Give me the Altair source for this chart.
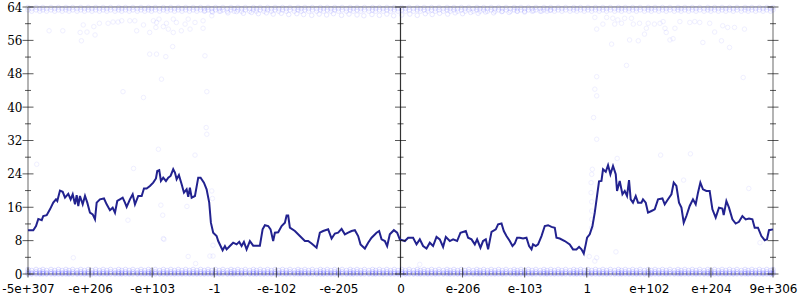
import altair as alt
import pandas as pd

# ---------------- data ----------------
tick_labels = ["-5e+307", "-e+206", "-e+103", "-1", "-e-102", "-e-205", "0",
               "e-206", "e-103", "1", "e+102", "e+204", "9e+306"]
tick_pos = list(range(13))
y_major = [0, 8, 16, 24, 32, 40, 48, 56, 64]
y_minor = [4, 12, 20, 28, 36, 44, 52, 60]

line_x = [0.00, 0.085, 0.129, 0.166, 0.221, 0.246, 0.301, 0.354, 0.407, 0.451, 0.472, 0.515, 0.559, 0.596,
          0.649, 0.687, 0.720, 0.757, 0.784, 0.810, 0.837, 0.881, 0.918, 0.955, 0.998, 1.042, 1.079, 1.106,
          1.159, 1.224, 1.267, 1.320, 1.364, 1.401, 1.438, 1.481, 1.525, 1.562, 1.589, 1.642, 1.686, 1.723,
          1.776, 1.831, 1.868, 1.911, 1.964, 2.017, 2.061, 2.082, 2.114, 2.141, 2.178, 2.222, 2.259, 2.297,
          2.339, 2.367, 2.394, 2.431, 2.475, 2.512, 2.555, 2.581, 2.608, 2.636, 2.689, 2.742, 2.780, 2.834,
          2.877, 2.919, 2.946, 2.983, 3.038, 3.064, 3.102, 3.135, 3.172, 3.199, 3.252, 3.305, 3.360, 3.402,
          3.441, 3.478, 3.521, 3.574, 3.627, 3.735, 3.779, 3.816, 3.869, 3.907, 3.949, 3.977, 4.030, 4.085,
          4.138, 4.165, 4.191, 4.218, 4.299, 4.379, 4.460, 4.513, 4.568, 4.648, 4.701, 4.754, 4.835, 4.890,
          4.943, 4.996, 5.051, 5.104, 5.157, 5.212, 5.265, 5.318, 5.356, 5.426, 5.479, 5.534, 5.614, 5.656,
          5.695, 5.748, 5.785, 5.828, 5.893, 5.946, 5.989, 6.070, 6.123, 6.203, 6.258, 6.311, 6.364, 6.419,
          6.472, 6.525, 6.580, 6.633, 6.686, 6.730, 6.794, 6.847, 6.912, 6.966, 7.052, 7.089, 7.144, 7.197,
          7.234, 7.288, 7.330, 7.374, 7.411, 7.466, 7.535, 7.572, 7.627, 7.664, 7.707, 7.760, 7.804, 7.841,
          7.878, 7.921, 7.974, 8.029, 8.071, 8.110, 8.135, 8.179, 8.216, 8.271, 8.324, 8.377, 8.432, 8.485,
          8.512, 8.565, 8.646, 8.726, 8.779, 8.834, 8.876, 8.915, 8.952, 8.984, 9.005, 9.048, 9.092, 9.129,
          9.166, 9.198, 9.237, 9.262, 9.306, 9.343, 9.381, 9.423, 9.467, 9.488, 9.531, 9.575, 9.612, 9.649,
          9.681, 9.708, 9.745, 9.789, 9.826, 9.881, 9.906, 9.950, 9.987, 10.042, 10.095, 10.148, 10.219,
          10.256, 10.309, 10.364, 10.401, 10.444, 10.486, 10.525, 10.562, 10.605, 10.658, 10.711, 10.755,
          10.792, 10.830, 10.872, 10.927, 10.980, 11.024, 11.077, 11.130, 11.185, 11.206, 11.249, 11.291,
          11.346, 11.399, 11.452, 11.507, 11.560, 11.613, 11.668, 11.705, 11.758, 11.813, 11.866, 11.903,
          11.935, 12.0]
line_y = [10.5, 10.5, 11.5, 13.2, 12.9, 13.9, 14.1, 15.5, 17.1, 17.9, 17.5, 20.0, 19.7, 18.3,
          19.2, 17.9, 19.1, 16.7, 18.9, 16.3, 18.7, 16.7, 18.7, 17.1, 14.7, 14.3, 13.1, 17.1,
          17.9, 18.1, 16.7, 15.3, 15.9, 14.7, 17.5, 17.9, 18.3, 17.1, 16.1, 17.9, 19.1, 16.7,
          18.7, 18.7, 20.5, 20.5, 21.1, 21.9, 22.9, 24.7, 24.9, 22.3, 23.1, 22.3, 23.1, 23.5,
          25.1, 24.3, 22.7, 23.7, 21.5, 19.5, 20.3, 18.5, 20.7, 18.3, 18.7, 23.1, 23.1, 21.9,
          20.3, 17.1, 12.3, 9.9, 9.1, 7.9, 6.7, 5.7, 6.7, 5.9, 6.7, 7.5, 7.1, 7.7,
          6.7, 7.7, 5.9, 7.9, 6.8, 6.8, 10.7, 11.7, 11.5, 10.7, 7.9, 9.9, 10.0, 11.5,
          12.3, 14.0, 14.0, 11.1, 10.3, 9.1, 7.9, 7.9, 7.3, 6.3, 9.9, 10.3, 10.7, 8.5,
          9.7, 9.9, 10.8, 9.5, 9.9, 10.3, 10.5, 9.1, 7.1, 6.1, 7.5, 8.7, 9.9, 10.3,
          8.3, 7.9, 6.7, 9.5, 10.5, 9.9, 8.3, 7.9, 8.7, 8.7, 7.1, 8.3, 6.7, 6.1,
          7.5, 6.7, 8.9, 8.3, 6.5, 8.9, 7.9, 8.3, 7.9, 9.9, 10.3, 8.7, 8.3, 7.1,
          8.3, 6.3, 7.9, 8.3, 5.9, 10.1, 10.7, 11.9, 12.1, 10.3, 9.1, 7.9, 6.7, 7.3,
          8.7, 8.7, 8.5, 8.7, 6.7, 5.9, 7.1, 6.7, 7.1, 9.1, 11.5, 11.7, 11.3, 11.1,
          8.7, 8.5, 7.9, 7.1, 5.9, 5.9, 6.5, 5.9, 4.9, 7.1, 8.7, 9.5, 11.5, 14.7,
          18.7, 22.2, 22.3, 25.1, 24.5, 26.1, 23.9, 25.9, 23.9, 19.9, 22.3, 19.1, 19.9, 18.7,
          22.5, 17.9, 17.1, 18.7, 17.1, 17.1, 17.9, 17.1, 14.7, 15.1, 15.5, 17.9, 18.1,
          16.7, 17.9, 19.1, 21.9, 21.1, 17.1, 15.9, 12.3, 13.9, 16.3, 17.9, 16.7,
          19.5, 21.9, 20.3, 19.9, 19.9, 15.5, 13.5, 15.9, 15.7, 14.1, 17.5, 15.9,
          13.1, 12.1, 12.5, 13.9, 13.1, 13.3, 13.1, 11.1, 11.1, 9.1, 8.1, 8.3,
          10.5, 10.7]

# dense bands of faint points (x positions, levels)
band_x_a = [0.00, 0.13, 0.24, 0.37, 0.49, 0.61, 0.72, 0.85, 0.97, 1.09, 1.21, 1.33, 1.46, 1.57, 1.69,
            1.82, 1.94, 2.05, 2.18, 2.30, 2.42, 2.54, 2.66, 2.78, 2.90, 3.02, 3.14, 3.27, 3.38, 3.50,
            3.63, 3.74, 3.86, 3.98, 4.10, 4.22, 4.35, 4.46, 4.58, 4.71, 4.82, 4.94, 5.06, 5.19, 5.30,
            5.42, 5.55, 5.66, 5.78, 5.90, 6.02, 6.14, 6.27, 6.38, 6.50, 6.62, 6.75, 6.86, 6.98, 7.10,
            7.23, 7.34, 7.46, 7.58, 7.70, 7.83, 7.94, 8.06, 8.18, 8.31, 8.42, 8.54, 8.66, 8.79, 8.90,
            9.02, 9.14, 9.26, 9.38, 9.51, 9.62, 9.74, 9.86, 9.99, 10.10, 10.22, 10.34, 10.47, 10.58,
            10.70, 10.82, 10.95, 11.06, 11.18, 11.30, 11.42, 11.55, 11.66, 11.78, 11.90, 12.00]
band_x_b = [0.06, 0.19, 0.30, 0.43, 0.55, 0.66, 0.79, 0.91, 1.03, 1.15, 1.27, 1.40, 1.51, 1.63, 1.76,
            1.88, 1.99, 2.12, 2.24, 2.36, 2.48, 2.60, 2.72, 2.84, 2.96, 3.08, 3.21, 3.32, 3.44, 3.57,
            3.68, 3.80, 3.92, 4.04, 4.16, 4.29, 4.40, 4.52, 4.65, 4.76, 4.88, 5.00, 5.13, 5.24, 5.36,
            5.49, 5.60, 5.72, 5.84, 5.96, 6.08, 6.21, 6.32, 6.44, 6.56, 6.69, 6.80, 6.92, 7.04, 7.17,
            7.28, 7.40, 7.52, 7.64, 7.77, 7.88, 8.00, 8.12, 8.25, 8.36, 8.48, 8.60, 8.73, 8.84, 8.96,
            9.08, 9.20, 9.32, 9.45, 9.56, 9.68, 9.80, 9.93, 10.04, 10.16, 10.28, 10.41, 10.52, 10.64,
            10.76, 10.89, 11.00, 11.12, 11.24, 11.36, 11.49, 11.60, 11.72, 11.84, 11.96]
bottom_levels_a = [0.0, 0.15, 0.55, 1.1]
bottom_levels_b = [0.0, 0.1, 0.3, 0.85]
top_levels_a = [63.9, 63.3]
top_levels_b = [63.6, 63.0]

dip_x = [2.85, 2.97, 3.1, 3.22, 3.36, 3.47, 3.6, 3.71, 3.84, 3.95, 4.08, 4.2, 4.33, 4.44, 4.57, 4.69,
         4.81, 4.92, 5.05, 5.17, 5.3, 5.41, 5.54, 5.66, 5.78, 5.89, 6.02, 6.15, 6.27, 6.4, 6.51, 6.63,
         6.76, 6.88, 7.0, 7.13, 7.25, 7.37, 7.5, 7.63, 7.75, 7.88, 8.0, 8.14, 8.27, 8.41]
dip_y = [63.1, 62.8, 63.0, 62.6, 62.9, 62.5, 62.7, 62.4, 62.6, 62.3, 62.5, 62.2, 62.4, 62.2, 62.0, 62.3,
         62.1, 62.4, 62.0, 62.3, 62.1, 61.9, 62.2, 62.0, 62.3, 61.9, 62.1, 62.3, 62.0, 62.4, 62.2, 62.5,
         62.3, 62.6, 62.4, 62.7, 62.5, 62.8, 62.6, 62.9, 62.7, 63.0, 62.8, 63.1, 63.0, 63.2]

# scattered points
sparse_x = [0.34, 0.56, 0.84, 0.86, 0.89, 0.95, 1.08, 1.06, 1.15, 1.29, 1.37, 1.45, 1.51, 1.64, 1.72,
            1.75, 1.86, 1.96, 2.02, 2.07, 2.06, 2.11, 2.18, 2.23, 2.26, 2.34, 2.34, 2.39, 2.47, 2.53,
            2.58, 2.61, 2.69, 1.96, 2.07, 2.22, 2.33, 2.15, 1.53, 1.86, 2.82, 2.96, 2.82, 2.85, 2.88,
            9.13, 9.16, 9.16, 9.13, 9.16, 9.26, 9.32, 9.42, 9.50, 9.40, 9.45, 9.56, 9.61, 9.72, 9.75,
            9.69, 9.83, 9.85, 9.93, 9.96, 9.99, 10.09, 10.18, 10.23, 10.26, 10.28, 10.34, 10.39, 10.42,
            10.50, 10.66, 10.74, 10.82, 10.87, 10.98, 11.06, 11.17, 11.19, 11.27, 11.30, 11.38, 11.54,
            9.64, 11.52,
            0.14, 1.70, 2.10, 2.69, 2.14, 2.17, 1.61, 2.18, 2.56, 2.96, 2.97, 2.98, 0.73, 2.58, 2.93,
            9.09, 9.08, 9.07, 9.07, 9.08, 9.08, 9.08, 9.08, 9.49, 10.19, 10.67, 10.56, 11.61, 11.79,
            9.47, 9.16, 9.04, 2.19, 2.70, 2.98, 9.13, 6.31, 2.87, 2.88, 9.11, 9.16]
sparse_y = [58.3, 58.3, 57.9, 55.9, 59.7, 58.0, 57.3, 59.3, 60.1, 60.1, 60.4, 60.4, 60.7, 60.7, 60.7,
            58.3, 59.7, 57.9, 60.7, 60.3, 59.1, 61.1, 59.3, 60.1, 58.7, 61.1, 57.9, 60.3, 58.3, 59.9,
            61.1, 58.7, 60.3, 52.7, 52.7, 52.1, 54.5, 46.7, 43.7, 42.3, 60.7, 61.9, 58.9, 52.3, 43.7,
            61.5, 58.7, 47.3, 44.3, 42.7, 59.9, 61.5, 61.3, 60.9, 55.1, 59.9, 60.1, 61.3, 61.3, 59.9,
            56.1, 55.9, 60.1, 57.5, 58.9, 60.1, 59.9, 60.1, 60.5, 58.9, 57.9, 56.1, 56.4, 58.9,
            60.5, 60.3, 60.5, 60.3, 55.5, 60.1, 58.0, 55.9, 59.5, 59.1, 54.3, 59.1, 58.7,
            50.0, 47.1,
            26.3, 25.3, 29.9, 28.5, 16.5, 14.1, 12.9, 8.5, 16.2, 19.9, 18.1, 6.9, 3.9, 4.2, 4.3,
            25.1, 23.9, 21.9, 19.5, 17.3, 15.1, 13.1, 11.1, 27.7, 28.5, 28.8, 22.5, 20.5, 7.5,
            5.3, 3.9, 4.2, 8.3, 2.5, 4.3, 3.1, 2.3, 35.1, 33.5, 37.5, 32.3]

# ---------------- tables ----------------
assert len(dip_x) == len(dip_y) and len(sparse_x) == len(sparse_y) and len(line_x) == len(line_y)
bottom_rows = []
for lv in bottom_levels_a:
    bottom_rows += [{"x": v, "y": lv} for v in band_x_a]
for lv in bottom_levels_b:
    bottom_rows += [{"x": v, "y": lv} for v in band_x_b]
top_rows = []
for lv in top_levels_a:
    top_rows += [{"x": v, "y": lv} for v in band_x_a]
for lv in top_levels_b:
    top_rows += [{"x": v, "y": lv} for v in band_x_b]
top_rows += [{"x": a, "y": b} for a, b in zip(dip_x, dip_y)]
bottom_df = pd.DataFrame(bottom_rows)
top_df = pd.DataFrame(top_rows)
sparse_df = pd.DataFrame({"x": sparse_x, "y": sparse_y})
line_df = pd.DataFrame({"x": line_x, "y": line_y})

W, H = 745, 267
xs = alt.Scale(domain=[0, 12], nice=False, zero=False)
ys = alt.Scale(domain=[0, 64], nice=False, zero=False)

label_expr = "[" + ",".join("'" + t + "'" for t in tick_labels) + "][datum.value]"

x_axis = alt.Axis(values=tick_pos, labelExpr=label_expr, ticks=False, domain=False, grid=False,
                  labelPadding=9, labelFont="DejaVu Sans", labelFontSize=12, labelColor="black",
                  labelOverlap=False, labelBound=False, labelFlush=False, title=None)
y_axis = alt.Axis(values=y_major, ticks=False, domain=False, grid=False, labelPadding=6,
                  labelFont="DejaVu Serif", labelFontSize=12, labelColor="black",
                  labelOverlap=False, labelBound=False, labelFlush=False, title=None)


def X(field):
    return alt.X(field, scale=xs, axis=x_axis)


def Y(field):
    return alt.Y(field, scale=ys, axis=y_axis)


bottom_band = alt.Chart(bottom_df).mark_point(shape="circle", filled=False, size=20, strokeWidth=1,
                                              color="#2a2aff", opacity=0.15).encode(x=X("x:Q"), y=Y("y:Q"))
top_band = alt.Chart(top_df).mark_point(shape="circle", filled=False, size=20, strokeWidth=1,
                                        color="#2a2aff", opacity=0.11).encode(x=X("x:Q"), y=Y("y:Q"))
sparse = alt.Chart(sparse_df).mark_point(shape="circle", filled=False, size=20, strokeWidth=1,
                                         color="#2a2aff", opacity=0.07).encode(x=X("x:Q"), y=Y("y:Q"))

line = alt.Chart(line_df).mark_line(color="#22228f", strokeWidth=2).encode(x=X("x:Q"), y=Y("y:Q"))

frame_df = pd.DataFrame({"x": [0, 12, 6]})
vlines = alt.Chart(frame_df).mark_rule().encode(
    x=X("x:Q"),
    y=alt.Y(datum=0, scale=ys, axis=y_axis), y2=alt.datum(64),
    color=alt.condition("datum.x == 6", alt.value("#333333"), alt.value("#b4b4b4")),
    strokeWidth=alt.condition("datum.x == 6", alt.value(1.2), alt.value(2)),
)
top_line = alt.Chart(pd.DataFrame({"y": [64, 0]})).mark_rule(color="#b4b4b4", strokeWidth=2).encode(
    y=Y("y:Q"), x=alt.X(datum=0, scale=xs, axis=x_axis), x2=alt.datum(12),
)

maj_rows = [{"px": p, "v": v} for p in [0, 6, 12] for v in y_major]
min_rows = [{"px": p, "v": v} for p in [0, 6, 12] for v in y_minor]
ytick_major = alt.Chart(pd.DataFrame(maj_rows)).mark_tick(orient="horizontal", size=11, thickness=1,
                                                          color="#111111").encode(x=X("px:Q"), y=Y("v:Q"))
ytick_minor = alt.Chart(pd.DataFrame(min_rows)).mark_tick(orient="horizontal", size=6, thickness=1,
                                                          color="#111111").encode(x=X("px:Q"), y=Y("v:Q"))
xticks = alt.Chart(pd.DataFrame({"t": tick_pos})).mark_tick(orient="vertical", size=10, thickness=1,
                                                            color="#111111", yOffset=-1.5).encode(
    x=X("t:Q"), y=alt.Y(datum=0, scale=ys, axis=y_axis))

chart = alt.layer(vlines, top_line, bottom_band, top_band, sparse, line,
                  ytick_major, ytick_minor, xticks).properties(
    width=W, height=H,
    autosize=alt.AutoSizeParams(type="none"),
    padding={"left": 28, "top": 7, "right": 27, "bottom": 26},
).configure_view(stroke=None).configure_axis(labelOverlap=False).configure(background="white")

chart.save("out.html", embed_options={"renderer": "svg", "actions": False})
